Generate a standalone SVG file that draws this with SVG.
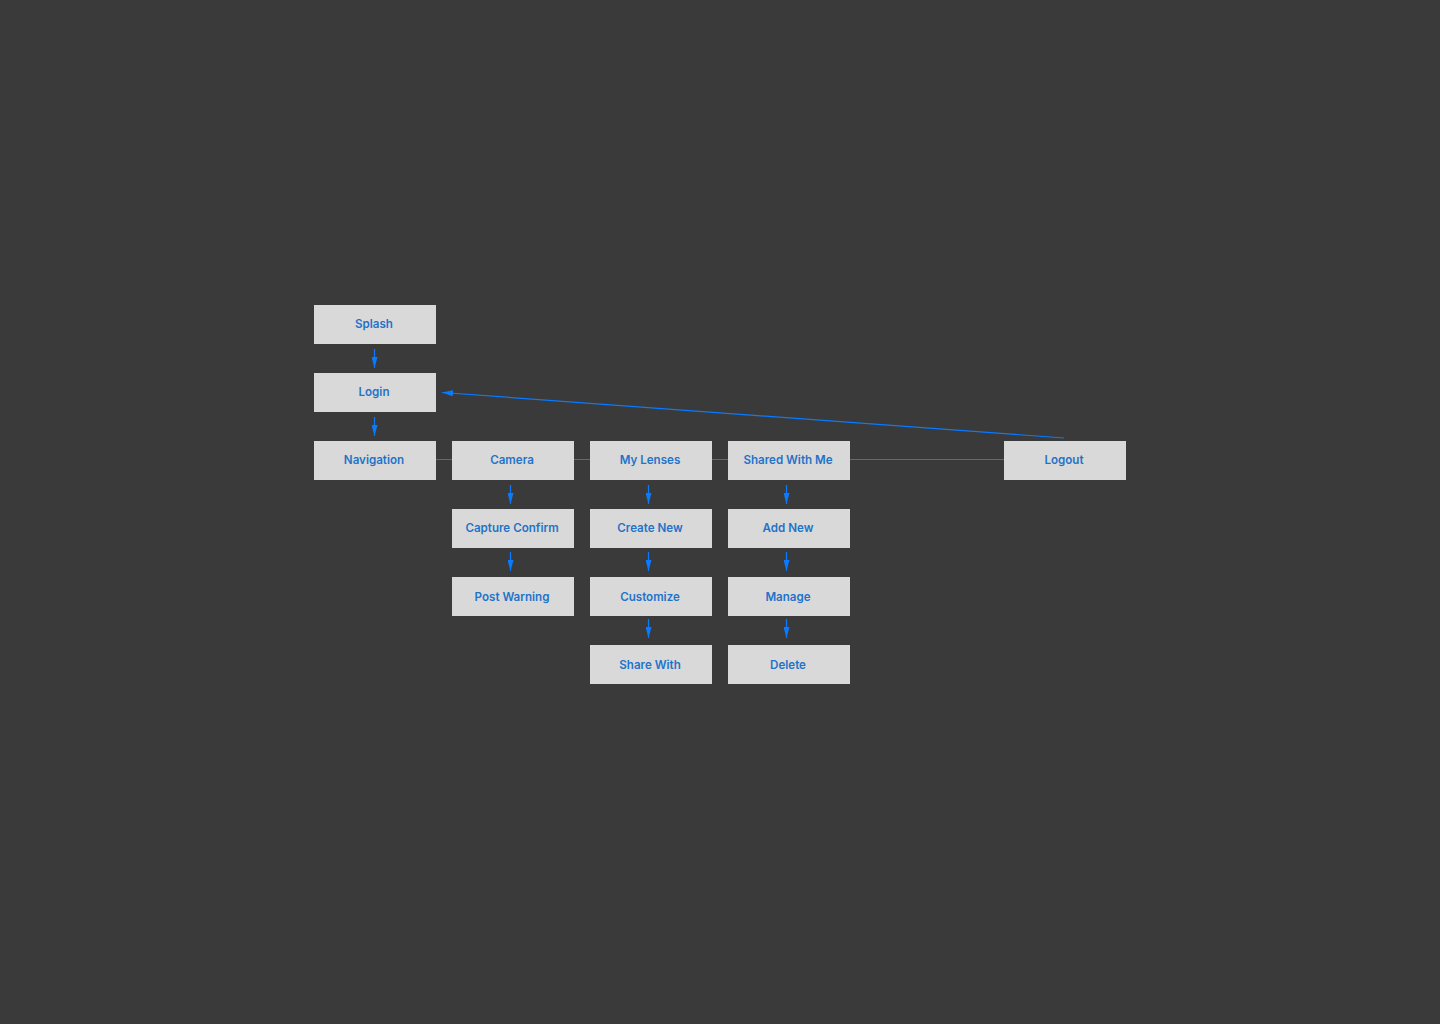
<svg xmlns="http://www.w3.org/2000/svg" width="1440" height="1024" viewBox="0 0 1440 1024">
<style>
.bx{fill:#d9d9d9}
.lb{font-family:Inter,"Noto Sans","Liberation Sans",sans-serif;font-size:11.6px;font-weight:600;fill:#1f73c9;text-anchor:middle;dominant-baseline:central}
.cn{stroke:#0a7aff;stroke-width:1.2;fill:none}
.hl{stroke:#3f6fa6;stroke-width:1;fill:none}
</style>
<defs>
<marker id="ah2" viewBox="0 0 10 10" refX="10" refY="5" markerWidth="11" markerHeight="6" markerUnits="userSpaceOnUse" orient="auto" preserveAspectRatio="none">
<path d="M0,0 L10,5 L0,10 Z" fill="#0a7aff"/>
</marker>
</defs>
<rect width="1440" height="1024" fill="#3a3a3a"/>
<g id="connectors">
<line class="hl" x1="436" y1="459.5" x2="1004" y2="459.5"/>
<line class="cn" x1="374.5" y1="349" x2="374.5" y2="368" marker-end="url(#ah2)"/>
<line class="cn" x1="374.5" y1="417" x2="374.5" y2="436" marker-end="url(#ah2)"/>
<line class="cn" x1="510.5" y1="485" x2="510.5" y2="504" marker-end="url(#ah2)"/>
<line class="cn" x1="510.5" y1="552" x2="510.5" y2="571" marker-end="url(#ah2)"/>
<line class="cn" x1="648.5" y1="485" x2="648.5" y2="504" marker-end="url(#ah2)"/>
<line class="cn" x1="648.5" y1="552" x2="648.5" y2="571" marker-end="url(#ah2)"/>
<line class="cn" x1="648.5" y1="619" x2="648.5" y2="638" marker-end="url(#ah2)"/>
<line class="cn" x1="786.5" y1="485" x2="786.5" y2="504" marker-end="url(#ah2)"/>
<line class="cn" x1="786.5" y1="552" x2="786.5" y2="571" marker-end="url(#ah2)"/>
<line class="cn" x1="786.5" y1="619" x2="786.5" y2="638" marker-end="url(#ah2)"/>
<line class="cn" x1="1064" y1="438" x2="442" y2="392.5" marker-end="url(#ah2)"/>
</g>
<g id="splash"><rect class="bx" x="314" y="305" width="122" height="39"/><text class="lb" x="374" y="323.5">Splash</text></g>
<g id="login"><rect class="bx" x="314" y="373" width="122" height="39"/><text class="lb" x="374" y="391.5">Login</text></g>
<g id="navigation"><rect class="bx" x="314" y="441" width="122" height="39"/><text class="lb" x="374" y="459.5">Navigation</text></g>
<g id="camera"><rect class="bx" x="452" y="441" width="122" height="39"/><text class="lb" x="512" y="459.5">Camera</text></g>
<g id="my-lenses"><rect class="bx" x="590" y="441" width="122" height="39"/><text class="lb" x="650" y="459.5">My Lenses</text></g>
<g id="shared-with-me"><rect class="bx" x="728" y="441" width="122" height="39"/><text class="lb" x="788" y="459.5">Shared With Me</text></g>
<g id="logout"><rect class="bx" x="1004" y="441" width="122" height="39"/><text class="lb" x="1064" y="459.5">Logout</text></g>
<g id="capture-confirm"><rect class="bx" x="452" y="509" width="122" height="39"/><text class="lb" x="512" y="527.5">Capture Confirm</text></g>
<g id="post-warning"><rect class="bx" x="452" y="577" width="122" height="39"/><text class="lb" x="512" y="596.7">Post Warning</text></g>
<g id="create-new"><rect class="bx" x="590" y="509" width="122" height="39"/><text class="lb" x="650" y="527.5">Create New</text></g>
<g id="customize"><rect class="bx" x="590" y="577" width="122" height="39"/><text class="lb" x="650" y="596.7">Customize</text></g>
<g id="share-with"><rect class="bx" x="590" y="645" width="122" height="39"/><text class="lb" x="650" y="664.7">Share With</text></g>
<g id="add-new"><rect class="bx" x="728" y="509" width="122" height="39"/><text class="lb" x="788" y="527.5">Add New</text></g>
<g id="manage"><rect class="bx" x="728" y="577" width="122" height="39"/><text class="lb" x="788" y="596.7">Manage</text></g>
<g id="delete"><rect class="bx" x="728" y="645" width="122" height="39"/><text class="lb" x="788" y="664.7">Delete</text></g>
</svg>
